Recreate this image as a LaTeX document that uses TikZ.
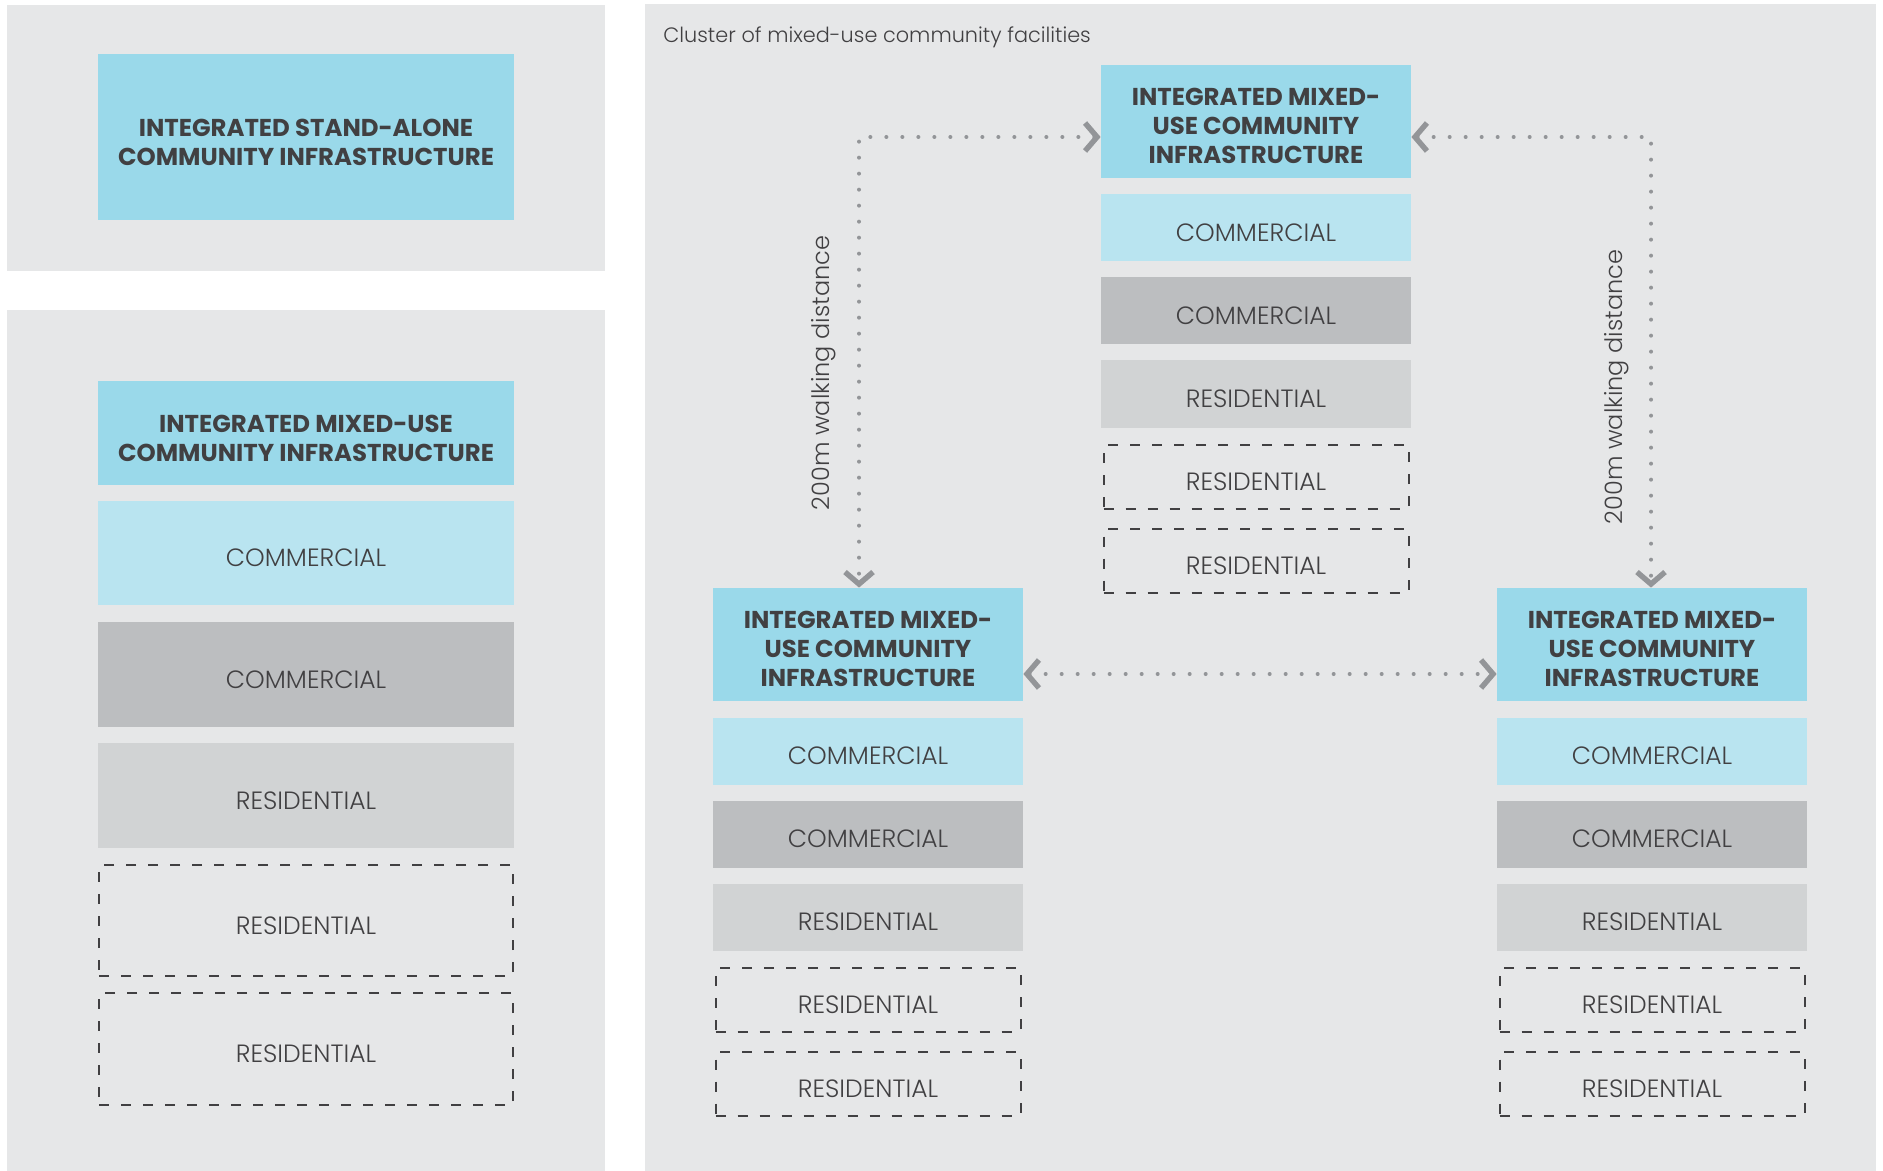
\documentclass[tikz,border=0pt]{standalone}
\usepackage{fontspec}
\setmainfont{Poppins}[UprightFont=* Light, BoldFont=* Bold]
\usetikzlibrary{arrows.meta}
\definecolor{panel}{HTML}{E6E7E8}
\definecolor{hdr}{HTML}{9AD9EA}
\definecolor{comm}{HTML}{B9E4F0}
\definecolor{comd}{HTML}{BCBEC0}
\definecolor{resi}{HTML}{D1D3D4}
\definecolor{ink}{HTML}{414042}
\definecolor{dots}{HTML}{939598}
\tikzset{
  chev/.tip={Straight Barb[length=6pt, width=14pt, line width=2.7pt]},
  box/.style={rectangle, inner sep=0pt, text=ink, align=center, text height=13.6pt,
    font=\fontsize{12.5}{14.5}\selectfont},
  hdr/.style={box, fill=hdr, text height=28.6pt, font=\bfseries\fontsize{12.2}{14.5}\selectfont},
  comm/.style={box, fill=comm},
  comd/.style={box, fill=comd},
  resi/.style={box, fill=resi},
  resd/.style={box, draw=ink, line width=1pt, dash pattern=on 5pt off 6pt},
  walk/.style={draw=dots, line width=2pt, line cap=round, dash pattern=on 0pt off 8pt, chev-chev},
  lab/.style={text=ink, font=\fontsize{12}{14}\selectfont, inner sep=0pt},
}

\begin{document}
\begin{tikzpicture}[x=0.5pt, y=-0.5pt]
  \useasboundingbox (0,0) rectangle (1883,1171);
  % panels
  \fill[panel] (7,5) rectangle (605,271);
  \fill[panel] (7,310) rectangle (605,1171);
  \fill[panel] (645,4) rectangle (1876,1171);

  % stand-alone
  \node[hdr, minimum width=208pt, minimum height=83pt] (sa) at (306,137)
    {INTEGRATED STAND-ALONE\\COMMUNITY INFRASTRUCTURE};

  % single mixed-use stack
  \node[hdr, minimum width=208pt, minimum height=52pt] (mh) at (306,433)
    {INTEGRATED MIXED-USE\\COMMUNITY INFRASTRUCTURE};
  \node[comm, minimum width=208pt, minimum height=52pt] (mc1) at (306,553) {COMMERCIAL};
  \node[comd, minimum width=208pt, minimum height=52.5pt] (mc2) at (306,674.5) {COMMERCIAL};
  \node[resi, minimum width=208pt, minimum height=52.5pt] (mr1) at (306,795.5) {RESIDENTIAL};
  \node[resd, minimum width=207pt, minimum height=55.5pt] (mr2) at (306,920.5) {RESIDENTIAL};
  \node[resd, minimum width=207pt, minimum height=56pt] (mr3) at (306,1049) {RESIDENTIAL};

  % cluster
  \node[lab, anchor=west, font=\fontsize{10.4}{12}\selectfont] (ttl) at (663,37)
    {Cluster of mixed-use community facilities};
  \foreach \n/\x/\y in {t/1256/65, l/868/588, r/1652/588} {
    \node[hdr, text height=42.4pt, minimum width=155pt, minimum height=56.5pt] (\n h) at (\x,{\y+56.5})
      {INTEGRATED MIXED-\\USE COMMUNITY\\INFRASTRUCTURE};
    \node[comm, minimum width=155pt, minimum height=33.5pt] (\n c1) at (\x,{\y+163}) {COMMERCIAL};
    \node[comd, minimum width=155pt, minimum height=33.5pt] (\n c2) at (\x,{\y+246}) {COMMERCIAL};
    \node[resi, minimum width=155pt, minimum height=33.5pt] (\n r1) at (\x,{\y+329}) {RESIDENTIAL};
    \node[resd, minimum width=152.5pt, minimum height=32pt] (\n r2) at (\x,{\y+412}) {RESIDENTIAL};
    \node[resd, minimum width=152.5pt, minimum height=32pt] (\n r3) at (\x,{\y+495.5}) {RESIDENTIAL};
  }

  % walking links
  \coordinate (wl) at (859,137);
  \coordinate (wr) at (1651,137);
  \coordinate (wm) at (1260,674);
  \draw[walk] (th.west |- wl) -- (wl) -- (wl |- lh.north);
  \draw[walk] (th.east |- wr) -- (wr) -- (wr |- rh.north);
  \draw[walk] (lh.east |- wm) -- (rh.west |- wm);
  \node[lab, rotate=90] (dl) at (824,373) {200m walking distance};
  \node[lab, rotate=90] (dr) at (1617,387) {200m walking distance};
\end{tikzpicture}
\end{document}
